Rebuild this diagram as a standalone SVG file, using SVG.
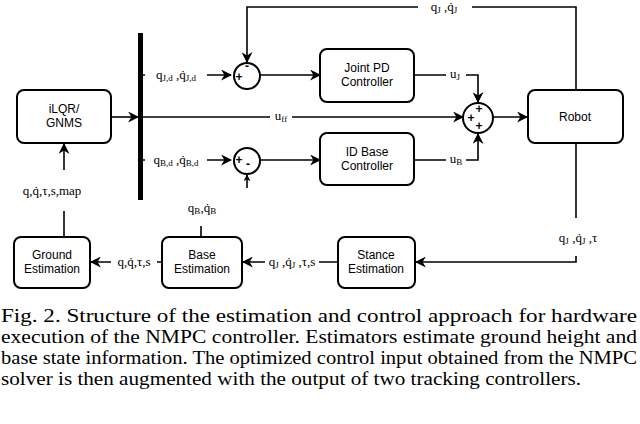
<svg xmlns="http://www.w3.org/2000/svg" width="640" height="424" viewBox="0 0 640 424">
<style>
.box{fill:#fff;stroke:#000;stroke-width:2}
.t{font-family:"Liberation Sans",Arial,sans-serif;font-size:12px;text-anchor:middle}
.m{font-family:"Liberation Serif","Times New Roman",serif;font-size:13px;text-anchor:middle}
.c{font-family:"Liberation Serif","Times New Roman",serif;font-size:19.5px}
.ln{fill:none;stroke:#000;stroke-width:1.6}
.lb{fill:#fff}
.s{font-size:9px}
</style>
<defs><marker id="a" viewBox="0 0 10 10" refX="9" refY="5" markerWidth="7" markerHeight="7" orient="auto" markerUnits="userSpaceOnUse"><path d="M0,0 L10,5 L0,10 L3,5z"/></marker>
<marker id="b" viewBox="0 0 10 10" refX="9" refY="5" markerWidth="11" markerHeight="11" orient="auto" markerUnits="userSpaceOnUse"><path d="M0,0 L10,5 L0,10 L3,5z"/></marker></defs>
<g id="connectors">
<path class="ln" d="M111,117 H138" marker-end="url(#b)"/>
<path class="ln" d="M142,75 H231" marker-end="url(#b)"/>
<path class="ln" d="M142,160 H231" marker-end="url(#b)"/>
<path class="ln" d="M142,117 H463" marker-end="url(#b)"/>
<path class="ln" d="M260,75 H320" marker-end="url(#b)"/>
<path class="ln" d="M260,160 H320" marker-end="url(#b)"/>
<path class="ln" d="M414,75 H478 V102" marker-end="url(#b)"/>
<path class="ln" d="M414,160 H478 V134" marker-end="url(#b)"/>
<path class="ln" d="M493,117 H527" marker-end="url(#b)"/>
<path class="ln" d="M576,90 V7 H247 V62" marker-end="url(#b)"/>
<path class="ln" d="M576,143 V218 M576,256 V262 H416" marker-end="url(#b)"/>
<path class="ln" d="M338,262 H243" marker-end="url(#b)"/>
<path class="ln" d="M162,262 H91" marker-end="url(#b)"/>
<path class="ln" d="M64,237 V211"/>
<path class="ln" d="M64,170 V144" marker-end="url(#b)"/>
<path class="ln" d="M201,237 V226"/>
<path class="ln" d="M247,188 V175" marker-end="url(#a)"/>
<rect x="138" y="33" width="5" height="167"/>
<rect x="418" y="0" width="54" height="14" class="lb"/>
<text x="444" y="11" class="m">q<tspan class="s" dy="2">J</tspan><tspan dy="-2"> ,q̇</tspan><tspan class="s" dy="2">J</tspan></text>
<rect x="145" y="68" width="62" height="14" class="lb"/>
<text x="176" y="79" class="m">q<tspan class="s" dy="2">J,d</tspan><tspan dy="-2"> ,q̇</tspan><tspan class="s" dy="2">J,d</tspan></text>
<rect x="145" y="153" width="62" height="14" class="lb"/>
<text x="176" y="164" class="m">q<tspan class="s" dy="2">B,d</tspan><tspan dy="-2"> ,q̇</tspan><tspan class="s" dy="2">B,d</tspan></text>
<rect x="270" y="110" width="22" height="14" class="lb"/>
<text x="281" y="120" class="m">u<tspan class="s" dy="2">ff</tspan></text>
<rect x="446" y="68" width="20" height="14" class="lb"/>
<text x="455" y="78" class="m">u<tspan class="s" dy="2">J</tspan></text>
<rect x="446" y="153" width="20" height="14" class="lb"/>
<text x="456" y="163" class="m">u<tspan class="s" dy="2">B</tspan></text>
<text x="52" y="195" class="m">q,q̇,τ,s,map</text>
<text x="202" y="212" class="m">q<tspan class="s" dy="2">B</tspan><tspan dy="-2">,q̇</tspan><tspan class="s" dy="2">B</tspan></text>
<text x="578" y="242" class="m">q<tspan class="s" dy="2">J</tspan><tspan dy="-2"> ,q̇</tspan><tspan class="s" dy="2">J</tspan><tspan dy="-2"> ,τ</tspan></text>
<rect x="265" y="255" width="54" height="14" class="lb"/>
<text x="292" y="266" class="m">q<tspan class="s" dy="2">J</tspan><tspan dy="-2"> ,q̇</tspan><tspan class="s" dy="2">J</tspan><tspan dy="-2"> ,τ,s</tspan></text>
<rect x="111" y="255" width="46" height="14" class="lb"/>
<text x="134" y="266" class="m">q,q̇,τ,s</text>
</g>
<g id="ilqr"><rect class="box" x="17" y="90" width="94" height="53" rx="7"/><text class="t" x="64" y="113">iLQR/</text><text class="t" x="64" y="127">GNMS</text></g>
<g id="sum1"><circle class="box" cx="247" cy="76" r="13" stroke-width="1.5"/><text class="t" x="247" y="70" font-weight="bold">-</text><text class="t" x="239" y="81" font-weight="bold">+</text></g>
<g id="sum2"><circle class="box" cx="247" cy="161" r="13" stroke-width="1.5"/><text class="t" x="239" y="164" font-weight="bold">+</text><text class="t" x="248" y="168" font-weight="bold">-</text></g>
<g id="jointpd"><rect class="box" x="320" y="49" width="94" height="53" rx="7"/><text class="t" x="367" y="72">Joint PD</text><text class="t" x="367" y="86">Controller</text></g>
<g id="idbase"><rect class="box" x="320" y="133" width="94" height="52" rx="7"/><text class="t" x="367" y="156">ID Base</text><text class="t" x="367" y="170">Controller</text></g>
<g id="sum3"><circle class="box" cx="478" cy="118" r="15" stroke-width="1.5"/><text class="t" x="479" y="113" font-weight="bold">+</text><text class="t" x="471" y="122" font-weight="bold">+</text><text class="t" x="479" y="130" font-weight="bold">+</text></g>
<g id="robot"><rect class="box" x="528" y="90" width="95" height="53" rx="7"/><text class="t" x="575" y="121">Robot</text></g>
<g id="stance"><rect class="box" x="338" y="237" width="77" height="51" rx="7"/><text class="t" x="376" y="259">Stance</text><text class="t" x="376" y="273">Estimation</text></g>
<g id="base"><rect class="box" x="162" y="237" width="80" height="51" rx="7"/><text class="t" x="202" y="259">Base</text><text class="t" x="202" y="273">Estimation</text></g>
<g id="ground"><rect class="box" x="14" y="237" width="76" height="51" rx="7"/><text class="t" x="52" y="259">Ground</text><text class="t" x="52" y="273">Estimation</text></g>
<g id="caption">
<text class="c" x="1" y="322" textLength="636" lengthAdjust="spacingAndGlyphs">Fig. 2.    Structure of the estimation and control approach for hardware</text>
<text class="c" x="1" y="343" textLength="636" lengthAdjust="spacingAndGlyphs">execution of the NMPC controller. Estimators estimate ground height and</text>
<text class="c" x="1" y="364" textLength="636" lengthAdjust="spacingAndGlyphs">base state information. The optimized control input obtained from the NMPC</text>
<text class="c" x="1" y="385" textLength="580" lengthAdjust="spacingAndGlyphs">solver is then augmented with the output of two tracking controllers.</text>
</g>
</svg>
